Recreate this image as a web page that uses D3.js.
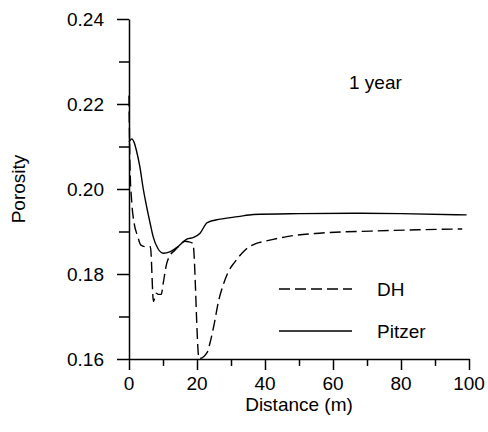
<!DOCTYPE html>
<html>
<head>
<meta charset="utf-8">
<script src="https://cdn.jsdelivr.net/npm/d3@7"></script>
<style>
  body { margin: 0; background: #fff; }
  text { font-family: "Liberation Sans", Arial, sans-serif; fill: #000; }
</style>
</head>
<body>
<div id="chart"></div>
<script>
// distance (m) and porosity
var dhDist = [0, 0.3, 0.8, 1.5, 2.5, 3.5, 5, 6.3, 7.2, 8, 8.6, 9.5, 10, 11.1, 12, 13.5, 15, 16.5, 17.5, 18.8, 20.6, 23.1, 23.8, 25.1, 26.3, 27.7, 29.2, 31.2, 34.1, 37.1, 40, 46.4, 56, 71, 85, 98];
var dhPor  = [0.222, 0.205, 0.197, 0.192, 0.189, 0.1868, 0.1864, 0.1864, 0.1735, 0.1755, 0.1752, 0.1752, 0.1775, 0.1825, 0.1843, 0.1856, 0.1868, 0.1877, 0.1876, 0.1872, 0.1601, 0.1617, 0.1637, 0.1684, 0.1735, 0.1774, 0.1805, 0.1829, 0.1856, 0.1871, 0.1877, 0.1888, 0.1896, 0.1901, 0.1904, 0.1906];
var pzDist = [0, 0.8, 1.5, 2.2, 3.2, 4.2, 5.2, 6.2, 7.1, 8.5, 10.1, 12, 14, 17, 19, 20.9, 23, 26.8, 32, 36.6, 50, 66, 80, 99.3];
var pzPor  = [0.211, 0.2118, 0.211, 0.209, 0.2052, 0.2, 0.1958, 0.192, 0.1888, 0.186, 0.1849, 0.1852, 0.1862, 0.1882, 0.1886, 0.1896, 0.1921, 0.1929, 0.1935, 0.194, 0.1942, 0.1943, 0.1942, 0.1939];
var xTicks = [0, 20, 40, 60, 80, 100];
var yTicks = [0.16, 0.18, 0.20, 0.22, 0.24];
var seriesNames = ["DH", "Pitzer"];

function init() {
    var w = 488;
    var h = 432;
    var fs = 19;

    var svg = d3.select("#chart")
                .append("svg")
                .attr("width", w)
                .attr("height", h);

    var x = d3.scaleLinear().domain([0, 100]).range([129, 469]);
    var y = d3.scaleLinear().domain([0.16, 0.24]).range([359, 19]);

    // axes
    var xAxis = d3.axisBottom(x)
                  .tickValues(d3.range(0, 101, 10))
                  .tickSize(0)
                  .tickFormat("");
    var gx = svg.append("g")
                .attr("transform", "translate(0,359)")
                .call(xAxis);
    gx.selectAll(".tick line")
      .attr("y2", function(d) { return d % 20 === 0 ? 11 : 7; });
    gx.selectAll(".tick text").remove();

    var yAxis = d3.axisLeft(y)
                  .tickValues(d3.range(16, 25, 1).map(function(v) { return v / 100; }))
                  .tickSize(0)
                  .tickFormat("");
    var gy = svg.append("g")
                .attr("transform", "translate(129,0)")
                .call(yAxis);
    gy.selectAll(".tick line")
      .attr("x2", function(d) { return Math.round(d * 100) % 2 === 0 ? -12 : -10; });
    gy.selectAll(".tick text").remove();

    svg.selectAll("g path.domain, g .tick line")
       .attr("stroke", "#000")
       .attr("stroke-width", 1.5);

    svg.append("g").selectAll("text")
       .data(xTicks)
       .enter()
       .append("text")
       .attr("x", function(d) { return x(d); })
       .attr("y", 389.5)
       .attr("text-anchor", "middle")
       .attr("font-size", fs)
       .text(function(d) { return d; });

    svg.append("g").selectAll("text")
       .data(yTicks)
       .enter()
       .append("text")
       .attr("x", 104)
       .attr("y", function(d) { return y(d) + 7; })
       .attr("text-anchor", "end")
       .attr("font-size", fs)
       .text(function(d) { return d3.format(".2f")(d); });

    svg.append("text")
       .attr("x", 299)
       .attr("y", 411)
       .attr("text-anchor", "middle")
       .attr("font-size", fs)
       .text("Distance (m)");

    svg.append("text")
       .attr("transform", "translate(25,189) rotate(-90)")
       .attr("text-anchor", "middle")
       .attr("font-size", fs)
       .text("Porosity");

    svg.append("text")
       .attr("x", 349)
       .attr("y", 89)
       .attr("font-size", fs)
       .text("1 year");

    // curves
    var line = d3.line()
                 .x(function(d) { return x(d[0]); })
                 .y(function(d) { return y(d[1]); })
                 .curve(d3.curveMonotoneX);

    var dh = d3.zip(dhDist, dhPor);
    var pz = d3.zip(pzDist, pzPor);

    svg.append("path")
       .attr("d", line(dh))
       .attr("fill", "none")
       .attr("stroke", "#000")
       .attr("stroke-width", 1.4)
       .attr("stroke-dasharray", "11,5");

    svg.append("path")
       .attr("d", line(pz))
       .attr("fill", "none")
       .attr("stroke", "#000")
       .attr("stroke-width", 1.4);

    // legend
    var legend = svg.append("g")
                    .selectAll("g")
                    .data(seriesNames)
                    .enter()
                    .append("g")
                    .attr("transform", function(d, i) { return "translate(0," + (289 + i * 42) + ")"; });
    legend.append("line")
          .attr("x1", 279)
          .attr("x2", 352)
          .attr("stroke", "#000")
          .attr("stroke-width", 1.4)
          .attr("stroke-dasharray", function(d, i) { return i === 0 ? "11,5" : null; });
    legend.append("text")
          .attr("x", 377)
          .attr("y", 7)
          .attr("font-size", fs)
          .text(function(d) { return d; });
}
window.onload = init;
</script>
</body>
</html>
